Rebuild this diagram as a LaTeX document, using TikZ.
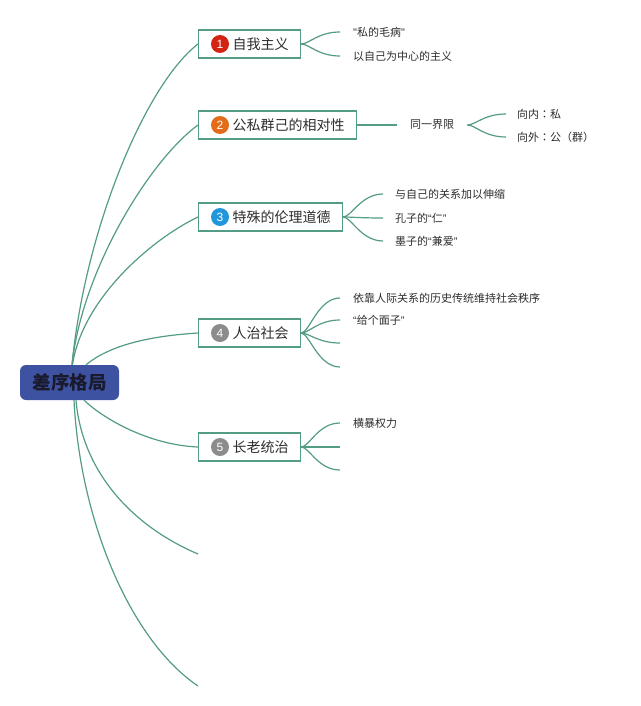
\documentclass[tikz,border=0pt]{standalone}
\usepackage{fontspec}
\setmainfont{Noto Sans CJK SC}
\newfontfamily\lat{Liberation Sans}
\newfontfamily\tcf{Noto Sans CJK TC}
\newcommand\zq[1]{{\lat “}#1{\lat ”}}
\definecolor{branch}{RGB}{84,156,132}
\definecolor{rootfill}{RGB}{61,82,160}
\definecolor{rootink}{RGB}{26,26,46}
\definecolor{ink}{RGB}{45,45,45}
\definecolor{cred}{RGB}{212,36,20}
\definecolor{corange}{RGB}{226,108,26}
\definecolor{cblue}{RGB}{34,150,218}
\definecolor{cgray}{RGB}{140,140,140}
\begin{document}
\begin{tikzpicture}[x=1pt,y=1pt,
 line/.style={draw=branch, line width=1.2pt},
 rootbox/.style={fill=rootfill, rounded corners=6pt, minimum width=99pt, minimum height=35pt, inner sep=0pt, text=rootink, font=\fontsize{18.5}{20}\selectfont\bfseries},
 topicbox/.style={draw=branch, line width=1.2pt, fill=white, anchor=west, minimum height=28pt, inner ysep=0pt, inner xsep=12pt, text=ink, font=\fontsize{14}{16}\selectfont},
 numdot/.style={circle, fill=#1, text=white, minimum size=18pt, inner sep=0pt, font=\lat\fontsize{12}{12}\selectfont},
 leaf/.style={anchor=west, inner ysep=1pt, inner xsep=#1, text=ink, font=\fontsize{11}{13}\selectfont},
 leaf/.default=13pt]
\fill[white] (0,0) rectangle (640,-706);
\useasboundingbox (0,0) rectangle (640,-706);

% root
\node[rootbox] (root) at (69.5,-382.5) {差序格局};

% topics
\node[topicbox] (t1) at (198,-44) {\hspace*{22pt}自我主义};
\node[topicbox] (t2) at (198,-125) {\hspace*{22pt}公私群己的相对性};
\node[topicbox] (t3) at (198,-217) {\hspace*{22pt}特殊的伦理道德};
\node[topicbox] (t4) at (198,-333) {\hspace*{22pt}人治社会};
\node[topicbox] (t5) at (198,-447) {\hspace*{22pt}长老统治};
\node[numdot=cred] (n1) at ([xshift=22pt]t1.west) {1};
\node[numdot=corange] (n2) at ([xshift=22pt]t2.west) {2};
\node[numdot=cblue] (n3) at ([xshift=22pt]t3.west) {3};
\node[numdot=cgray] (n4) at ([xshift=22pt]t4.west) {4};
\node[numdot=cgray] (n5) at ([xshift=22pt]t5.west) {5};
\coordinate (e1) at (198,-554);
\coordinate (e2) at (198,-686);

% main branches
\draw[line] ([xshift=2.5pt]root.north) .. controls (85,-230) and (145,-85) .. (t1.west);
\draw[line] ([xshift=2.5pt]root.north) .. controls (82,-270) and (150,-160) .. (t2.west);
\draw[line] ([xshift=3pt]root.north) .. controls (82,-300) and (150,-240) .. (t3.west);
\draw[line] ([xshift=16.5pt]root.north) .. controls (110,-345) and (150,-336) .. (t4.west);
\draw[line] ([xshift=14.5pt]root.south) .. controls (105,-420) and (150,-445) .. (t5.west);
\draw[line] ([xshift=6.5pt]root.south) .. controls (82,-470) and (130,-525) .. (e1);
\draw[line] ([xshift=4.5pt]root.south) .. controls (80,-520) and (130,-640) .. (e2);

% topic 1 leaves
\node[leaf] (a11) at (340,-32) {{\lat "}私的毛病{\lat "}};
\node[leaf] (a12) at (340,-56) {以自己为中心的主义};
\foreach \t in {a11,a12}
  \draw[line] (t1.east) .. controls +(8,0) and +(-22,0) .. (\t.west);

% topic 2
\node[leaf] (s2) at (397,-125) {同一界限};
\draw[line] (t2.east) -- (s2.west);
\node[leaf=11pt] (a21) at (506,-114) {向内{\tcf ：}私};
\node[leaf=11pt] (a22) at (506,-137) {向外{\tcf ：}公（群）};
\foreach \t in {a21,a22}
  \draw[line] (s2.east) .. controls +(8,0) and +(-22,0) .. (\t.west);

% topic 3
\node[leaf=12pt] (a31) at (383,-194) {与自己的关系加以伸缩};
\node[leaf=12pt] (a32) at (383,-218) {孔子的\zq{仁}};
\node[leaf=12pt] (a33) at (383,-241) {墨子的\zq{兼爱}};
\foreach \t in {a31,a32,a33}
  \draw[line] (t3.east) .. controls +(8,0) and +(-22,0) .. (\t.west);

% topic 4
\node[leaf] (a41) at (340,-298) {依靠人际关系的历史传统维持社会秩序};
\node[leaf] (a42) at (340,-320) {\zq{给个面子}};
\coordinate (e43) at (340,-343);
\coordinate (e44) at (340,-367);
\foreach \t in {a41.west,a42.west,e43,e44}
  \draw[line] (t4.east) .. controls +(8,0) and +(-22,0) .. (\t);

% topic 5
\node[leaf] (a51) at (340,-423) {横暴权力};
\coordinate (e52) at (340,-447);
\coordinate (e53) at (340,-470);
\foreach \t in {a51.west,e52,e53}
  \draw[line] (t5.east) .. controls +(8,0) and +(-22,0) .. (\t);
\end{tikzpicture}
\end{document}
